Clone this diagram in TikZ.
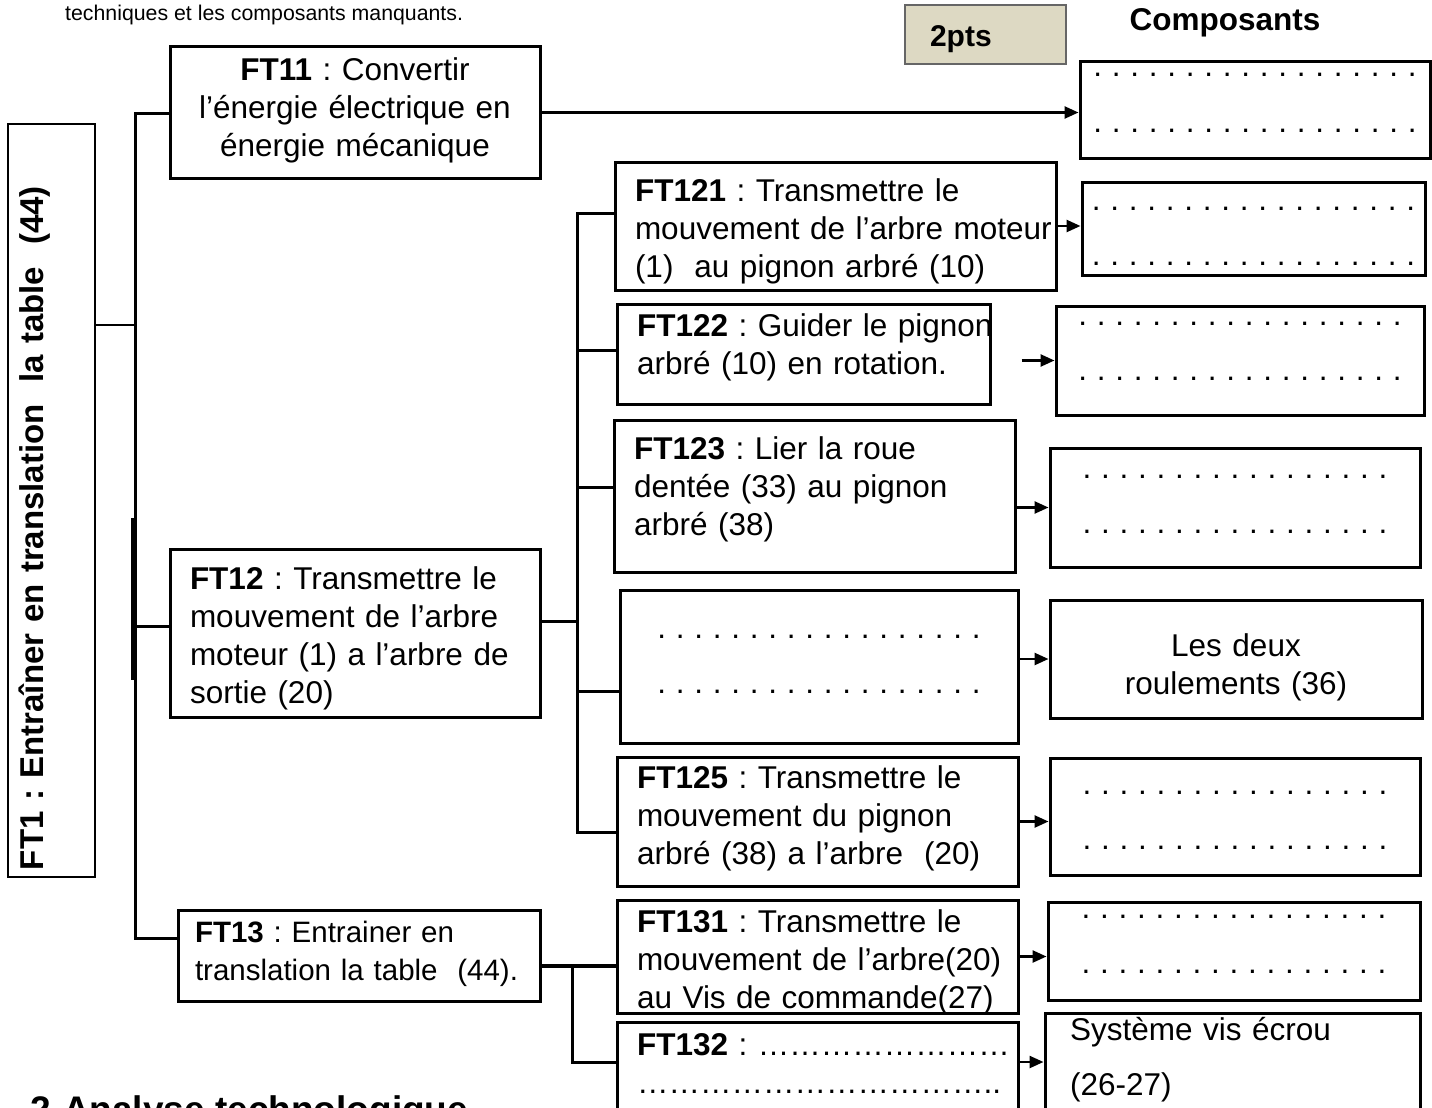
\documentclass[tikz,border=0pt]{standalone}
\usepackage{fontspec}
\setmainfont{Liberation Sans}
\usetikzlibrary{arrows.meta}
\definecolor{beige}{HTML}{DDD9C3}
\newdimen\pas \pas=18.5pt
\newcommand{\pointilles}[1]{\leavevmode\hbox to #1\pas{\xleaders\hbox to \pas{\hss.\hss}\hfill}}
\frenchspacing

\begin{document}
\begin{tikzpicture}[x=1pt,y=-1pt,
    cadre/.style={draw, line width=3pt, inner sep=0pt, font=\fontsize{31.5}{38}\selectfont},
    fct/.style={cadre, align=left, execute at begin node={\leftskip=20pt\rightskip=-15pt plus 1fil}},
    comp/.style={cadre, align=center, font=\fontsize{31.5}{55}\selectfont},
    fleche/.style={line width=2.5pt, -{Triangle[length=14pt,width=12pt]}},
    trait/.style={line width=3pt}]

      \useasboundingbox (0,0) rectangle (1432,1108);

      \node (consigne) at (65,21) [anchor=base west, inner sep=0pt, font=\fontsize{21.3}{26}\selectfont] {techniques et les composants manquants.};
      \node (pts) at (985.5,34.5) [draw=black!60, line width=1.5pt, fill=beige, inner sep=0pt, text width=161pt, text height=42pt, text depth=17pt, align=left, font=\fontsize{30}{36}\selectfont\bfseries, execute at begin node={\leftskip=25pt}] {2pts};
      \node (composants) at (1225,23) [font=\fontsize{31.5}{38}\selectfont\bfseries] {Composants};
      \node (partie2) at (30,1122) [anchor=base west, inner sep=0pt, font=\fontsize{37}{44}\selectfont\bfseries] {2-Analyse technologique};

      \node (ft1) at (51.5,500.5) [draw, line width=2.5pt, rotate=90, inner sep=0pt, text width=753pt, text height=35pt, text depth=52pt, align=left, font=\fontsize{33}{38}\selectfont\bfseries, execute at begin node={\leftskip=7pt}] {FT1 : Entraîner en translation\ \ la table\ \ (44)};

      \node (ft11) at (355,112.5) [cadre, align=center, text width=370pt, text height=34pt, text depth=97pt] {\textbf{FT11} : Convertir\\l’énergie électrique en\\énergie mécanique};

      \begin{scope}[every node/.style={fct}]
        \node (ft12)  at (355,633)    [text width=370pt, text height=40pt, text depth=128pt] {\textbf{FT12} : Transmettre le\\mouvement de l’arbre\\moteur (1) a l’arbre de\\sortie (20)};
        \node (ft13)  at (359,955.5)  [text width=362pt, text height=32pt, text depth=59pt, font=\fontsize{29.5}{38}\selectfont, execute at begin node={\leftskip=17pt}] {\textbf{FT13} : Entrainer en\\translation la table\ \ (44).};
        \node (ft121) at (835.5,226)  [text width=441pt, text height=39pt, text depth=89pt] {\textbf{FT121} : Transmettre le\\mouvement de l’arbre moteur\\(1)\ \ au pignon arbré (10)};
        \node (ft122) at (803.5,354)  [text width=373pt, text height=32pt, text depth=68pt] {\textbf{FT122} : Guider le pignon\\arbré (10) en rotation.};
        \node (ft123) at (814.5,496)  [text width=401pt, text height=39pt, text depth=113pt] {\textbf{FT123} : Lier la roue\\dentée (33) au pignon\\arbré (38)};
        \node (ft125) at (817.5,821.5) [text width=401pt, text height=31pt, text depth=98pt] {\textbf{FT125} : Transmettre le\\mouvement du pignon\\arbré (38) a l’arbre\ \ (20)};
        \node (ft131) at (817.5,956.5) [text width=401pt, text height=32pt, text depth=81pt] {\textbf{FT131} : Transmettre le\\mouvement de l’arbre(20)\\au Vis de commande(27)};
        \node (ft132) at (817.5,1067) [text width=401pt, text height=33pt, text depth=57pt] {\textbf{FT132} : ……………………\\……………………………..};
      \end{scope}

      \begin{scope}[every node/.style={comp}]
        \node (ft124) at (819,666.5) [text width=398pt, text height=48pt, text depth=105pt] {\pointilles{18}\\\pointilles{18}};
        \node (c1) at (1255,110)    [text width=350pt, text height=15pt, text depth=81pt] {\pointilles{18}\\\pointilles{18}};
        \node (c2) at (1253.5,228.5) [text width=343pt, text height=28pt, text depth=65pt] {\pointilles{18}\\\pointilles{18}};
        \node (c3) at (1240,360.5)  [text width=368pt, text height=19pt, text depth=90pt] {\pointilles{18}\\\pointilles{18}};
        \node (c4) at (1235,507.5)  [text width=370pt, text height=30pt, text depth=89pt] {\pointilles{17}\\\pointilles{17}};
        \node (c5) at (1236,659)    [text width=372pt, text height=56pt, text depth=62pt, font=\fontsize{31.5}{38}\selectfont] {Les deux\\roulements (36)};
        \node (c6) at (1235,816.5)  [text width=370pt, text height=36pt, text depth=81pt] {\pointilles{17}\\\pointilles{17}};
        \node (c7) at (1234,951)    [text width=372pt, text height=16pt, text depth=82pt] {\pointilles{17}\\\pointilles{17}};
        \node (c8) at (1232.5,1066.5) [text width=375pt, text height=27pt, text depth=80pt, align=left, execute at begin node={\leftskip=25pt}] {Système vis écrou\\(26-27)};
      \end{scope}

      \coordinate (b1) at (135,113);
      \coordinate (b0) at (135,325);
      \coordinate (b2) at (135,626);
      \coordinate (b3) at (135,938);
      \draw[trait] (b1 -| ft11.west) -- (b1) -- (b3) -- (b3 -| ft13.west);
      \draw[line width=2.5pt] (b0 -| ft1.south) -- (b0);
      \draw[trait] (b2) -- (b2 -| ft12.west);
      \draw[line width=5pt] (133.5,518) -- (133.5,680);

      \coordinate (s0) at (577,621);
      \coordinate (s1) at (577,213);
      \coordinate (s2) at (577,350);
      \coordinate (s3) at (577,487);
      \coordinate (s4) at (577,691);
      \coordinate (s5) at (577,832);
      \draw[trait] (s0 -| ft12.east) -- (s0);
      \draw[trait] (s1 -| ft121.west) -- (s1) -- (s5) -- (s5 -| ft125.west);
      \draw[trait] (s2) -- (s2 -| ft122.west);
      \draw[trait] (s3) -- (s3 -| ft123.west);
      \draw[trait] (s4) -- (s4 -| ft124.west);

      \coordinate (t0) at (572,966);
      \coordinate (t1) at (572,1062);
      \draw[line width=3.5pt] (t0 -| ft13.east) -- (t0 -| ft131.west);
      \draw[trait] (t0) -- (t1) -- (t1 -| ft132.west);

      \begin{scope}[every edge/.style={draw,fleche}]
        \path (ft11.east) edge (ft11.east -| c1.west);
        \path (ft121.east) edge (ft121.east -| c2.west);
        \path ([xshift=-33pt]c3.west) edge (c3.west);
        \path (ft123.east |- c4.west) edge (c4.west);
        \path (ft124.east |- c5.west) edge (c5.west);
        \path (ft125.east) edge (ft125.east -| c6.west);
        \path (ft131.east) edge (ft131.east -| c7.west);
        \path (ft132.east |- t1) edge (c8.west |- t1);
      \end{scope}

    \end{tikzpicture}
\end{document}
